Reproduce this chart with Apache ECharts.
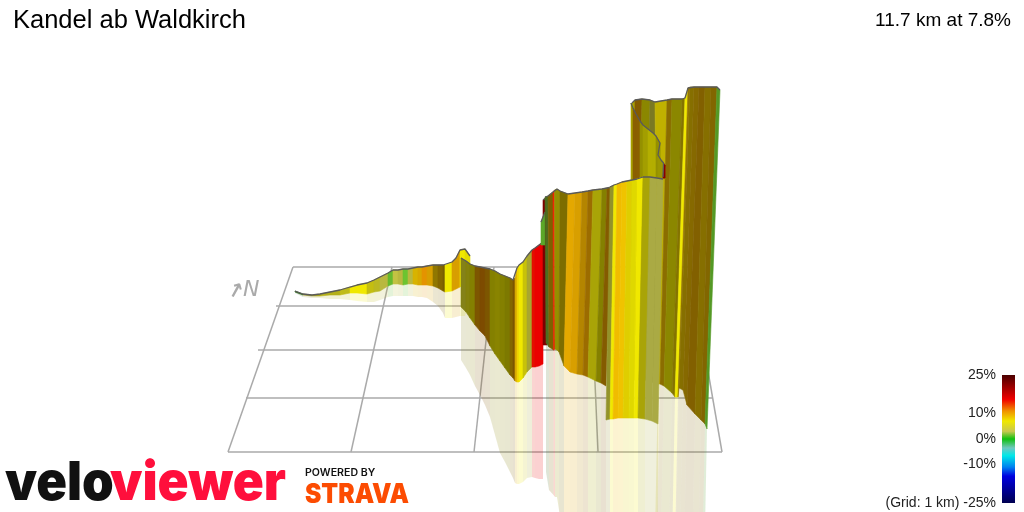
<!DOCTYPE html>
<html>
<head>
<meta charset="utf-8">
<title>Kandel ab Waldkirch</title>
<style>
  html, body { margin: 0; height: 100%; background: #fff; }
  #chart { width: 1024px; height: 512px; }
</style>
</head>
<body>
<div id="chart"></div>
<script src="https://cdn.jsdelivr.net/npm/echarts@6/dist/echarts.min.js"></script>
<script>
// the picture is a 3D projection, so the main axes run in picture units
var titleText = 'Kandel ab Waldkirch';
var summaryText = '11.7 km at 7.8%';

// gradient scale
var rampGrades = [-25, -14.5, -11, -6.5, -3.5, 0, 3, 7, 11, 15.5, 21, 25];
var rampColors = ['#000050', '#0000e0', '#0080f0', '#00e8e8', '#70c8c0', '#10c010', '#c8c850', '#f0e800', '#f09000', '#f00000', '#900000', '#4a0000'];
var scaleTicks = [-25, -10, 0, 10, 25];

// ground grid: x1, y1, x2, y2
var groundLines = [
  [293, 267, 690, 267], [276, 306, 696, 306], [258, 350, 705, 350], [246, 398, 713, 398], [228, 452, 722, 452],
  [293, 267, 228, 452], [392, 267, 351, 452], [494, 267, 474, 452], [590, 267, 598, 452], [690, 267, 722, 452]
];

// wall 1, far ascent
var w1X = [295, 303, 312, 320, 330, 340, 350, 357, 367, 374, 380, 388, 393, 398, 403, 408, 413, 418, 422, 427, 433, 438, 443, 445, 452, 456, 460, 465, 470];
var w1Top = [291, 294, 295, 294, 292, 290, 287, 285, 283, 280, 277, 273, 270, 270, 269, 269, 268, 267, 267, 266, 265, 265, 265, 265, 262, 258, 250, 249, 256];
var w1Bottom = [292, 295, 296, 296, 295, 295, 293, 293, 294, 292, 291, 286, 284, 284, 285, 284, 284, 285, 285, 285, 286, 288, 291, 292, 291, 289, 287, 284, 282];
var w1Shadow = [293, 297, 298, 298, 299, 299, 300, 301, 302, 302, 300, 297, 296, 296, 296, 296, 296, 297, 297, 298, 302, 306, 313, 318, 318, 317, 316, 316, 300];
var w1Grade = [1, 4, 5, 5.5, 5.5, 5.5, 7, 7, 6, 5, 3.5, 1.5, 3.5, 3.5, 1.5, 3.5, 8.5, 9, 10.5, 9.5, 8.5, 9, 9, 7, 9.5, 9.5, 7, 7];
var w1Light = [0.5, 0.7, 0.75, 0.8, 0.8, 0.85, 1, 1, 0.85, 0.85, 0.9, 0.95, 0.95, 0.9, 1, 0.9, 0.9, 0.9, 0.95, 0.9, 0.6, 0.55, 0.5, 1, 0.9, 0.9, 1, 0.95];

// wall 2, drop towards the viewer and the red ramp
var w2X = [461, 466, 470, 475, 480, 485, 490, 495, 500, 505, 510, 513, 515, 517, 519, 523, 527, 532, 535, 539, 543];
var w2Top = [258, 261, 264, 266, 267, 268, 269, 271, 274, 276, 278, 280, 278, 268, 265, 262, 256, 250, 248, 245, 242];
var w2Bottom = [307, 312, 318, 325, 331, 336, 346, 354, 361, 368, 375, 378, 381, 382, 382, 378, 372, 367, 367, 366, 364];
var w2Shadow = [360, 368, 375, 386, 395, 405, 417, 435, 453, 462, 472, 478, 483, 484, 484, 482, 478, 477, 478, 479, 479];
var w2Grade = [5, 6, 7, 10, 11, 10, 7, 7, 7, 7, 9, 10, 9, 8, 7, 6.5, 4, 15, 15.5, 15.5];
var w2Light = [0.6, 0.58, 0.55, 0.52, 0.52, 0.52, 0.55, 0.57, 0.55, 0.52, 0.55, 0.52, 0.9, 1, 1, 0.85, 0.8, 0.95, 0.98, 0.98];

// the thin slivers at the foot of the big climb
var w2bX = [543, 547];
var w2bTop = [200, 197];
var w2bBottom = [345, 345];
var w2bGrade = [19];
var w2bLight = [0.7];
var w2cX = [541, 545];
var w2cTop = [222, 212];
var w2cBottom = [245, 245];
var w2cGrade = [1.5];
var w2cLight = [0.85];

// back wall, top right
var w5TopX = [632, 635, 642, 650, 655, 667, 672, 682, 685, 688, 690, 694, 699, 705, 711, 717, 720];
var w5BottomX = [630, 632, 638, 645, 658, 660, 664, 672, 675, 678, 679, 683, 687, 695, 701, 705, 707];
var w5Top = [103, 100, 99, 100, 102, 100, 99, 99, 98, 88, 87, 87, 87, 87, 87, 87, 90];
var w5Bottom = [380, 380, 380, 380, 384, 384, 386, 393, 397, 397, 388, 390, 405, 414, 420, 424, 429];
var w5Shadow = [380, 380, 380, 380, 560, 560, 560, 560, 560, 560, 560, 560, 560, 560, 560, 560, 560];
var w5Grade = [7, 10, 7, 4, 7.5, 9, 7, 8, 7, 9, 8.5, 9, 9.5, 8.5, 9, 1.5];
var w5Light = [0.7, 0.55, 0.58, 0.58, 0.8, 0.58, 0.58, 0.55, 1, 0.62, 0.56, 0.56, 0.54, 0.56, 0.54, 0.78];

// curved wall in front of the back wall
var w6X = [631, 633, 636, 640, 643, 648, 653, 656, 660, 658, 661, 663.5, 665, 663];
var w6Top = [103, 108, 114, 121, 125, 129, 133, 136, 143, 155, 160, 163, 165, 177];
var w6Bottom = [185, 185, 185, 185, 185, 185, 185, 185, 185, 185, 185, 178, 178, 178];
var w6Grade = [7, 10, 10, 7, 7, 7, 7, 7, 7, 7, 7, 18, 18];
var w6Light = [0.7, 0.58, 0.58, 0.62, 0.68, 0.75, 0.75, 0.62, 0.65, 0.65, 0.65, 0.7, 0.7];

// wall 3, main face
var w3TopX = [545, 548, 553, 554.5, 557, 560, 568, 575, 582, 588, 593, 602, 607, 612];
var w3BottomX = [546, 549, 553.5, 555, 557, 559, 564, 570, 577, 583, 588, 596, 601, 606];
var w3Top = [197, 196, 192, 190, 189, 191, 194, 193, 192, 191, 190, 189, 188, 187];
var w3Bottom = [343, 347, 350, 349, 350, 352, 366, 372, 374, 375, 377, 381, 383, 386];
var w3Shadow = [472, 490, 495, 497, 497, 510, 560, 560, 560, 560, 560, 560, 560, 560];
var w3Grade = [2, 9, 14.5, 7, 7, 8, 9.5, 9.5, 9.5, 10, 6.5, 7, 10];
var w3Light = [0.55, 0.52, 1, 0.62, 0.62, 0.52, 0.95, 0.9, 0.75, 0.65, 0.72, 0.55, 0.55];

// wall 4, the nearest face
var w4TopX = [610, 614, 617, 622, 627, 632, 637, 643, 650, 657, 663];
var w4BottomX = [606, 610, 613, 618, 623, 629, 634, 638, 645, 652, 658];
var w4Top = [187, 185, 184, 182, 181, 180, 179, 177, 177, 178, 179];
var w4Bottom = [420, 419, 419, 418, 418, 418, 418, 418, 419, 421, 424];
var w4Shadow = [560, 560, 560, 560, 560, 560, 560, 560, 560, 560, 560];
var w4Grade = [4, 7, 9, 8.7, 7.5, 7, 7, 6.5, 3, 3];
var w4Light = [0.7, 1, 1, 1, 0.93, 0.93, 1, 0.72, 0.85, 0.85];

function hexRgb(hex) {
  return [parseInt(hex.substr(1, 2), 16), parseInt(hex.substr(3, 2), 16), parseInt(hex.substr(5, 2), 16)];
}

// colour for a gradient value, darkened by how much light the face gets
function gradeColor(grade, light, alpha) {
  var i = 0;
  while (i < rampGrades.length - 2 && grade > rampGrades[i + 1]) i++;
  var t = (grade - rampGrades[i]) / (rampGrades[i + 1] - rampGrades[i]);
  var a = hexRgb(rampColors[i]), b = hexRgb(rampColors[i + 1]);
  var rgb = [0, 1, 2].map(function (k) {
    return Math.round((a[k] + (b[k] - a[k]) * t) * light);
  });
  return 'rgba(' + rgb.join(',') + ',' + alpha + ')';
}

function stripRows(topX, topY, botX, botY, count) {
  var rows = [];
  for (var i = 0; i < count; i++) {
    rows.push([topX[i], topY[i], botX[i], botY[i], topX[i + 1], topY[i + 1], botX[i + 1], botY[i + 1]]);
  }
  return rows;
}

function stripSeries(rows, grades, lights, alpha, z) {
  return {
    type: 'custom',
    coordinateSystem: 'cartesian2d',
    silent: true,
    z: z,
    encode: { x: 0, y: 1 },
    data: rows,
    renderItem: function (params, api) {
      var pts = [[0, 1], [4, 5], [6, 7], [2, 3]].map(function (p) {
        return api.coord([api.value(p[0]), api.value(p[1])]);
      });
      var c = gradeColor(grades[params.dataIndex], lights[params.dataIndex], alpha);
      return {
        type: 'polygon',
        shape: { points: pts },
        style: alpha < 1 ? { fill: c } : { fill: c, stroke: c, lineWidth: 0.6 }
      };
    }
  };
}

function outlineSeries(xs, ys, z) {
  return {
    type: 'line',
    silent: true,
    z: z,
    symbol: 'none',
    lineStyle: { color: '#5a5a5a', width: 1.3 },
    data: xs.map(function (x, i) { return [x, ys[i]]; })
  };
}

// adds shadow (optional), strips and top outline of one wall
function addWall(list, wall) {
  var n = wall.grade.length;
  if (wall.shadow) {
    var shadowX = wall.botX.map(function (x, i) { return x - (wall.shadow[i] - wall.bot[i]) * (wall.shadowLean || 0); });
    var shadowRows = stripRows(wall.botX, wall.bot, shadowX, wall.shadow, n);
    // hidden strips have no shadow, collapse them so no wedge is drawn
    shadowRows.forEach(function (row) {
      if (row[1] === row[3]) { row[4] = row[0]; row[5] = row[1]; row[6] = row[0]; row[7] = row[1]; }
    });
    list.push(stripSeries(shadowRows, wall.grade, wall.light, 0.18, 3));
  }
  var z = 10 + list.wallCount * 2;
  list.wallCount++;
  list.push(stripSeries(stripRows(wall.topX, wall.top, wall.botX, wall.bot, n), wall.grade, wall.light, 1, z));
  list.push(outlineSeries(wall.topX, wall.top, z + 1));
}

var series = [];
series.wallCount = 0;

series.push({
  type: 'custom',
  coordinateSystem: 'cartesian2d',
  silent: true,
  z: 2,
  encode: { x: 0, y: 1 },
  data: groundLines,
  renderItem: function (params, api) {
    var a = api.coord([api.value(0), api.value(1)]);
    var b = api.coord([api.value(2), api.value(3)]);
    return {
      type: 'line',
      shape: { x1: a[0], y1: a[1], x2: b[0], y2: b[1] },
      style: { stroke: '#aaaaaa', lineWidth: 1.5 }
    };
  }
});

addWall(series, { topX: w1X, botX: w1X, top: w1Top, bot: w1Bottom, shadow: w1Shadow, grade: w1Grade, light: w1Light });
addWall(series, { topX: w2X, botX: w2X, top: w2Top, bot: w2Bottom, shadow: w2Shadow, grade: w2Grade, light: w2Light });
addWall(series, { topX: w5TopX, botX: w5BottomX, top: w5Top, bot: w5Bottom, shadow: w5Shadow, shadowLean: 0.02, grade: w5Grade, light: w5Light });
addWall(series, { topX: w6X, botX: w6X, top: w6Top, bot: w6Bottom, grade: w6Grade, light: w6Light });
addWall(series, { topX: w2bX, botX: w2bX, top: w2bTop, bot: w2bBottom, grade: w2bGrade, light: w2bLight });
addWall(series, { topX: w2cX, botX: w2cX, top: w2cTop, bot: w2cBottom, grade: w2cGrade, light: w2cLight });
addWall(series, { topX: w3TopX, botX: w3BottomX, top: w3Top, bot: w3Bottom, shadow: w3Shadow, grade: w3Grade, light: w3Light });
addWall(series, { topX: w4TopX, botX: w4BottomX, top: w4Top, bot: w4Bottom, shadow: w4Shadow, grade: w4Grade, light: w4Light });

// colour scale bar on its own axis
series.push({
  type: 'custom',
  coordinateSystem: 'cartesian2d',
  xAxisIndex: 1,
  yAxisIndex: 1,
  silent: true,
  z: 3,
  encode: { x: 0, y: 1 },
  data: [[0, rampGrades[rampGrades.length - 1], 1, rampGrades[0]]],
  renderItem: function (params, api) {
    var a = api.coord([api.value(0), api.value(1)]);
    var b = api.coord([api.value(2), api.value(3)]);
    var span = rampGrades[rampGrades.length - 1] - rampGrades[0];
    var stops = rampGrades.map(function (g, i) {
      return { offset: (rampGrades[rampGrades.length - 1] - g) / span, color: rampColors[i] };
    }).reverse();
    return {
      type: 'rect',
      shape: { x: a[0], y: a[1], width: b[0] - a[0], height: b[1] - a[1] },
      style: { fill: new echarts.graphic.LinearGradient(0, 0, 0, 1, stops) }
    };
  }
});

var chart = echarts.init(document.getElementById('chart'), null, { renderer: 'canvas' });
chart.setOption({
  animation: false,
  backgroundColor: '#fff',
  title: [
    { text: titleText, left: 13, top: 8, padding: 0, textStyle: { fontFamily: 'Liberation Sans', fontSize: 25.5, fontWeight: 'normal', color: '#000' } },
    { text: summaryText, right: 13, top: 11, padding: 0, textStyle: { fontFamily: 'Liberation Sans', fontSize: 19, fontWeight: 'normal', color: '#000' } }
  ],
  grid: [
    { left: 0, right: 0, top: 0, bottom: 0 },
    { left: 1002, top: 375, width: 13, height: 128 }
  ],
  xAxis: [
    { type: 'value', min: 0, max: 1024, show: false },
    { type: 'value', gridIndex: 1, min: 0, max: 1, show: false }
  ],
  yAxis: [
    { type: 'value', min: 0, max: 512, inverse: true, show: false },
    {
      type: 'value', gridIndex: 1, min: -25, max: 25,
      axisLine: { show: false },
      axisTick: { show: false },
      splitLine: { show: false },
      axisLabel: {
        customValues: scaleTicks,
        margin: 6,
        fontFamily: 'Liberation Sans',
        fontSize: 14,
        color: '#222',
        formatter: function (v) { return (v === -25 ? '(Grid: 1 km) ' : '') + v + '%'; }
      }
    }
  ],
  graphic: [
    { type: 'text', x: 235, y: 292, rotation: -0.5, originX: 0, originY: 0, style: { text: '↑', fontFamily: 'DejaVu Sans', fontWeight: 'bold', fontSize: 20, fill: '#aaaaaa', align: 'center', verticalAlign: 'middle' } },
    { type: 'text', x: 243, y: 279, style: { text: 'N', fontFamily: 'DejaVu Sans', fontStyle: 'italic', fontSize: 22, fill: '#aaaaaa' } },
    { type: 'text', x: 5, y: 457, scaleX: 0.94, style: { text: 'velo', fontFamily: 'Inter', fontWeight: 900, fontSize: 54, fill: '#111111' } },
    { type: 'text', x: 110, y: 457, scaleX: 0.95, style: { text: 'viewer', fontFamily: 'Inter', fontWeight: 900, fontSize: 54, fill: '#ff0f3c' } },
    { type: 'text', x: 305, y: 468, scaleX: 1.06, style: { text: 'POWERED BY', fontFamily: 'Inter', fontWeight: 600, fontSize: 10, fill: '#111111' } },
    { type: 'text', x: 305, y: 481, scaleX: 0.91, style: { text: 'STRAVA', fontFamily: 'Inter', fontWeight: 900, fontSize: 27, fill: '#fc4c02' } }
  ],
  series: series
});
</script>
</body>
</html>
